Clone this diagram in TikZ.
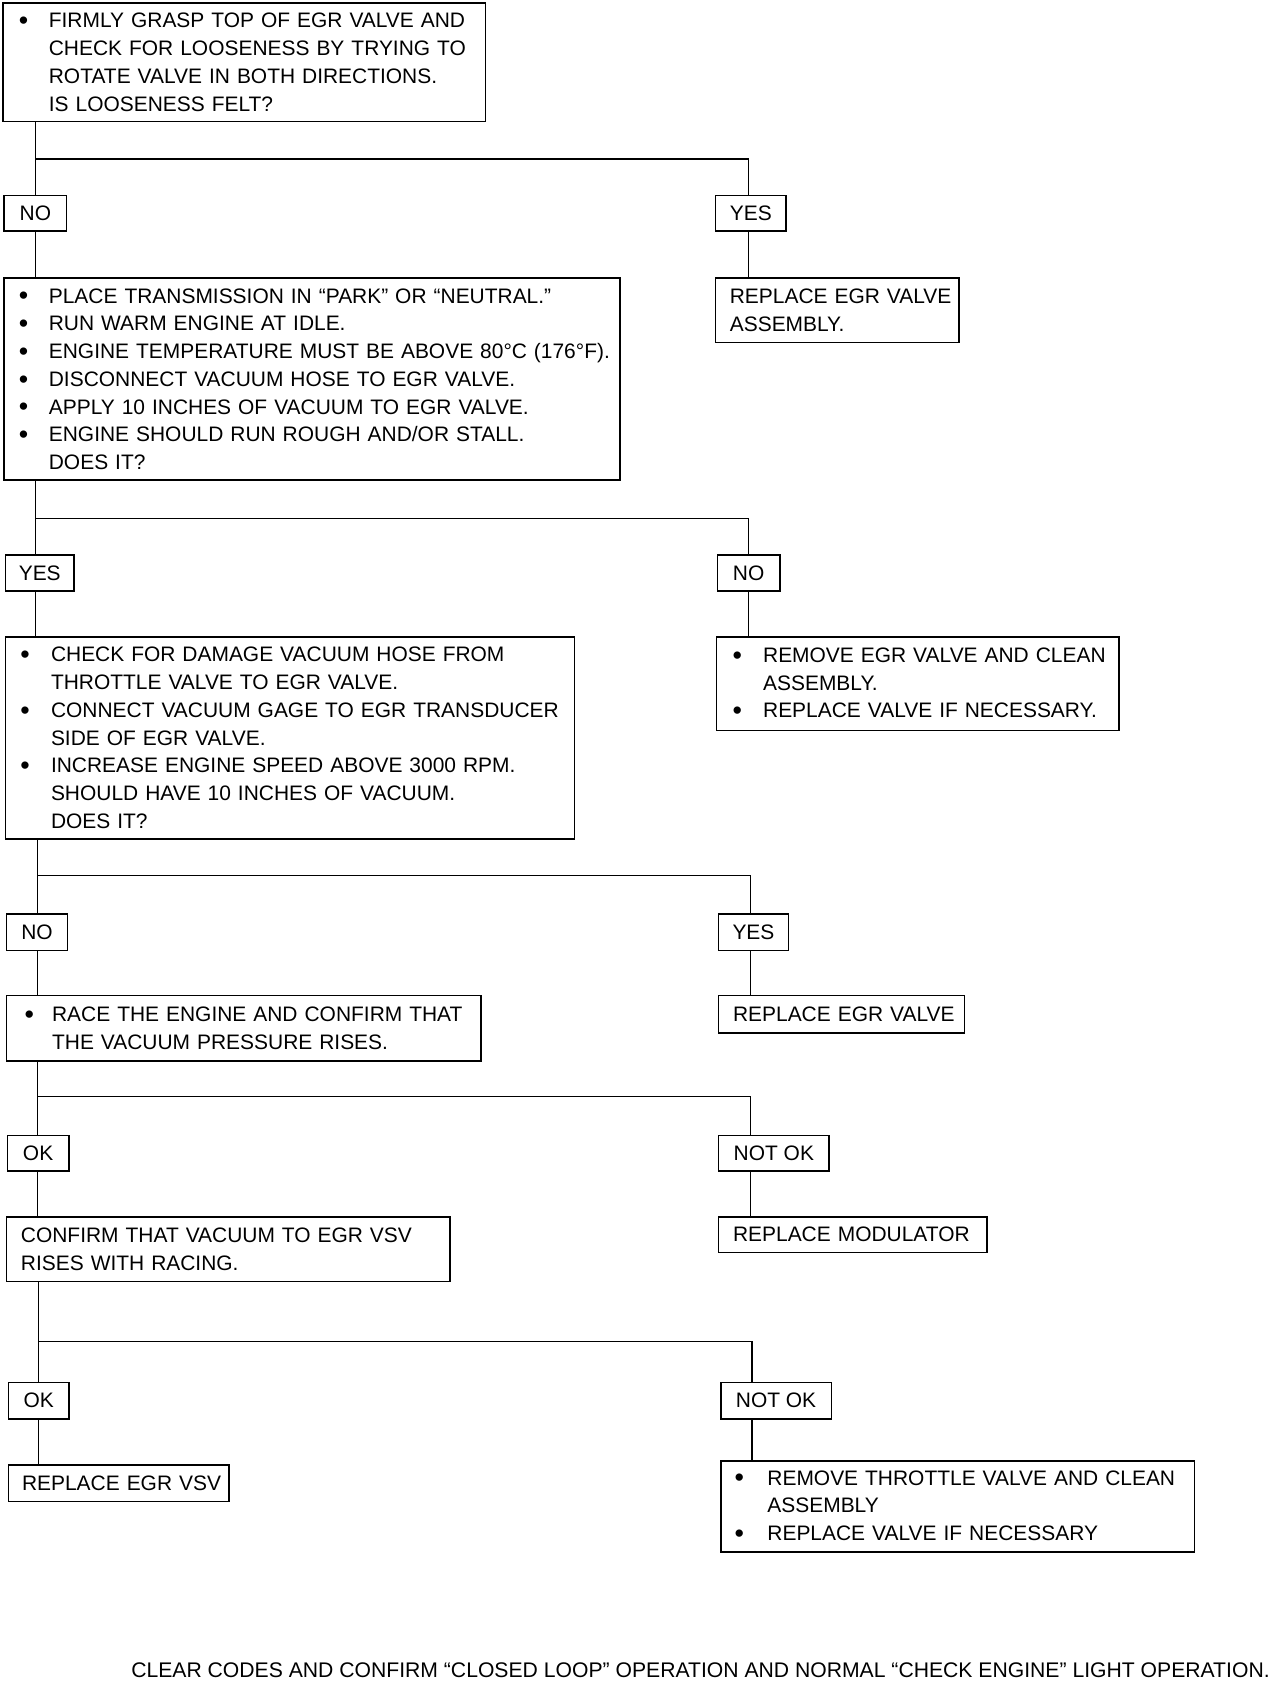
\documentclass[tikz,border=0pt]{standalone}
\usepackage{fontspec}
\setmainfont{Liberation Sans}
\newcommand\bu[2]{\mbox{\makebox[#1pt][l]{\raisebox{-1.6pt}{\fontsize{25}{25}\selectfont •}}#2}}
\newcommand\ind[2]{\mbox{\hspace*{#1pt}#2}}
\newcommand\oneline[1]{\mbox{#1}}
\tikzset{
  box/.style={draw, line width=1.5pt, rectangle, inner ysep=0pt, outer sep=0pt,
    font=\fontsize{19.5}{25.8}\selectfont, align=left},
  lab/.style={draw, line width=1.5pt, rectangle, inner sep=0pt, outer sep=0pt,
    font=\fontsize{19.5}{25.8}\selectfont},
  conn/.style={line width=1.2pt},
}
\newcommand\mybox[7]{%
  \pgfmathsetmacro\mytw{#4-#2-2*#6}%
  \pgfmathsetmacro\myh{#5-#3}%
  \node[box, inner xsep=#6pt, text width=\mytw pt, minimum height=\myh pt]
    (#1) at ({(#2+#4)/2},{(#3+#5)/2}) {#7};%
}
\newcommand\mylab[6]{%
  \pgfmathsetmacro\mylw{#4-#2}%
  \pgfmathsetmacro\myh{#5-#3}%
  \node[lab, minimum width=\mylw pt, minimum height=\myh pt]
    (#1) at ({(#2+#4)/2},{(#3+#5)/2}) {#6};%
}
\begin{document}
\begin{tikzpicture}[x=1pt,y=-1pt]
\fill[white] (0,0) rectangle (1191.5,1566);
\useasboundingbox (0,0) rectangle (1191.5,1566);

% ---- section 1
\mybox{b1}{3}{3}{452}{113}{14.5}{\bu{28}{FIRMLY GRASP TOP OF EGR VALVE AND}\\
\ind{28}{CHECK FOR LOOSENESS BY TRYING TO}\\
\ind{28}{ROTATE VALVE IN BOTH DIRECTIONS.}\\
\ind{28}{IS LOOSENESS FELT?}}
\mylab{no1}{4}{182}{62}{215}{NO}
\mylab{yes1}{666}{182}{732}{215}{YES}
\mybox{b2}{4}{259}{577}{447}{13.5}{\bu{28}{PLACE TRANSMISSION IN “PARK” OR “NEUTRAL.”}\\
\bu{28}{RUN WARM ENGINE AT IDLE.}\\
\bu{28}{ENGINE TEMPERATURE MUST BE ABOVE 80°C (176°F).}\\
\bu{28}{DISCONNECT VACUUM HOSE TO EGR VALVE.}\\
\bu{28}{APPLY 10 INCHES OF VACUUM TO EGR VALVE.}\\
\bu{28}{ENGINE SHOULD RUN ROUGH AND/OR STALL.}\\
\ind{28}{DOES IT?}}
\mybox{b3}{666}{259}{893}{319}{13.5}{\oneline{REPLACE EGR VALVE}\\\oneline{ASSEMBLY.}}
\coordinate (jL1) at (33,148);
\coordinate (jR1) at (697,148);
\draw[conn] (b1.south -| jL1) -- (no1.north -| jL1);
\draw[conn] (jL1) -- (jR1) -- (yes1.north -| jR1);
\draw[conn] (no1.south -| jL1) -- (b2.north -| jL1);
\draw[conn] (yes1.south -| jR1) -- (b3.north -| jR1);

% ---- section 2
\mylab{yes2}{5}{517}{69}{550}{YES}
\mylab{no2}{668}{517}{726}{550}{NO}
\mybox{b4}{5}{593}{535}{781}{14}{\bu{28.5}{CHECK FOR DAMAGE VACUUM HOSE FROM}\\
\ind{28.5}{THROTTLE VALVE TO EGR VALVE.}\\
\bu{28.5}{CONNECT VACUUM GAGE TO EGR TRANSDUCER}\\
\ind{28.5}{SIDE OF EGR VALVE.}\\
\bu{28.5}{INCREASE ENGINE SPEED ABOVE 3000 RPM.}\\
\ind{28.5}{SHOULD HAVE 10 INCHES OF VACUUM.}\\
\ind{28.5}{DOES IT?}}
\mybox{b5}{667}{593}{1042}{680}{15}{\bu{28.5}{REMOVE EGR VALVE AND CLEAN}\\
\ind{28.5}{ASSEMBLY.}\\
\bu{28.5}{REPLACE VALVE IF NECESSARY.}}
\coordinate (jL2) at (33,483);
\coordinate (jR2) at (697,483);
\draw[conn] (b2.south -| jL2) -- (yes2.north -| jL2);
\draw[conn] (jL2) -- (jR2) -- (no2.north -| jR2);
\draw[conn] (yes2.south -| jL2) -- (b4.north -| jL2);
\draw[conn] (no2.south -| jR2) -- (b5.north -| jR2);

% ---- section 3
\mylab{no3}{6}{851}{63}{885}{NO}
\mylab{yes3}{669}{851}{734}{885}{YES}
\mybox{b6}{6}{927}{448}{988}{17}{\bu{25.5}{RACE THE ENGINE AND CONFIRM THAT}\\
\ind{25.5}{THE VACUUM PRESSURE RISES.}}
\mybox{b7}{669}{927}{898}{962}{13.5}{\oneline{REPLACE EGR VALVE}}
\coordinate (jL3) at (35,815);
\coordinate (jR3) at (699,815);
\draw[conn] (b4.south -| jL3) -- (no3.north -| jL3);
\draw[conn] (jL3) -- (jR3) -- (yes3.north -| jR3);
\draw[conn] (no3.south -| jL3) -- (b6.north -| jL3);
\draw[conn] (yes3.south -| jR3) -- (b7.north -| jR3);

% ---- section 4
\mylab{ok4}{7}{1057}{64}{1090}{OK}
\mylab{nok4}{669}{1057}{772}{1090}{NOT OK}
\mybox{b8}{6}{1133}{419}{1193}{13.5}{\oneline{CONFIRM THAT VACUUM TO EGR VSV}\\\oneline{RISES WITH RACING.}}
\mybox{b9}{669}{1133}{919}{1166}{13.5}{\oneline{REPLACE MODULATOR}}
\coordinate (jL4) at (35,1021);
\coordinate (jR4) at (699,1021);
\draw[conn] (b6.south -| jL4) -- (ok4.north -| jL4);
\draw[conn] (jL4) -- (jR4) -- (nok4.north -| jR4);
\draw[conn] (ok4.south -| jL4) -- (b8.north -| jL4);
\draw[conn] (nok4.south -| jR4) -- (b9.north -| jR4);

% ---- section 5
\mylab{ok5}{8}{1287}{64}{1321}{OK}
\mylab{nok5}{671}{1287}{774}{1321}{NOT OK}
\mybox{b10}{8}{1364}{213}{1398}{12.5}{\oneline{REPLACE EGR VSV}}
\mybox{b11}{671}{1360}{1112}{1445}{13}{\bu{30.5}{REMOVE THROTTLE VALVE AND CLEAN}\\
\ind{30.5}{ASSEMBLY}\\
\bu{30.5}{REPLACE VALVE IF NECESSARY}}
\coordinate (jL5) at (36,1249);
\coordinate (jR5) at (700,1249);
\draw[conn] (b8.south -| jL5) -- (ok5.north -| jL5);
\draw[conn] (jL5) -- (jR5) -- (nok5.north -| jR5);
\draw[conn] (ok5.south -| jL5) -- (b10.north -| jL5);
\draw[conn] (nok5.south -| jR5) -- (b11.north -| jR5);

% ---- final note
\node[anchor=base west, inner sep=0pt, font=\fontsize{19.7}{25.8}\selectfont] (fin) at (122,1562)
  {CLEAR CODES AND CONFIRM “CLOSED LOOP” OPERATION AND NORMAL “CHECK ENGINE” LIGHT OPERATION.};
\end{tikzpicture}
\end{document}
